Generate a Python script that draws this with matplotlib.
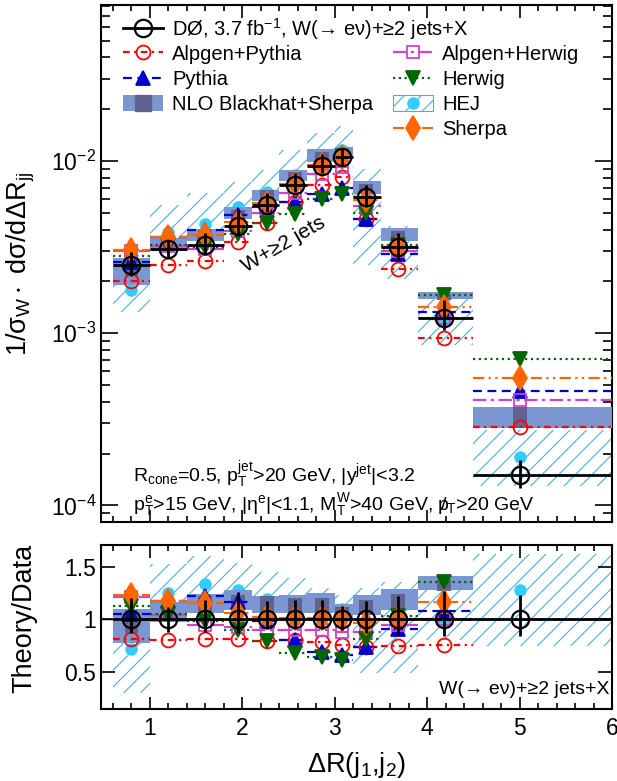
import numpy as np
import matplotlib.pyplot as plt
from matplotlib.lines import Line2D
from matplotlib.patches import Patch
from matplotlib.ticker import MultipleLocator, FixedLocator, NullFormatter

plt.rcParams['font.family'] = ['Liberation Sans', 'DejaVu Sans']
plt.rcParams['mathtext.fontset'] = 'custom'
plt.rcParams['mathtext.rm'] = 'Liberation Sans'
plt.rcParams['mathtext.it'] = 'Liberation Sans'
plt.rcParams['mathtext.sf'] = 'Liberation Sans'
plt.rcParams['mathtext.default'] = 'regular'
plt.rcParams['hatch.linewidth'] = 0.8
plt.rcParams['axes.linewidth'] = 1.5

# --- binning of Delta R(j1,j2) ---
edges = [0.6, 1.0, 1.4, 1.8, 2.1, 2.4, 2.7, 3.0, 3.2, 3.5, 3.9, 4.5, 6.0]
xpos = [0.8, 1.2, 1.6, 1.95, 2.27, 2.57, 2.86, 3.08, 3.34, 3.68, 4.18, 5.0]

# --- D0 data, 1/sigma dsigma/dDeltaR, relative total uncertainty ---
data = [2.48e-3, 3.10e-3, 3.25e-3, 4.20e-3, 5.55e-3, 7.25e-3, 9.35e-3, 1.06e-2,
        6.20e-3, 3.15e-3, 1.23e-3, 1.50e-4]
data_up = [0.20, 0.12, 0.18, 0.26, 0.17, 0.18, 0.18, 0.13, 0.17, 0.22, 0.27, 0.23]
data_dn = [0.13, 0.12, 0.12, 0.13, 0.09, 0.09, 0.09, 0.10, 0.13, 0.15, 0.155, 0.16]

# --- theory / data ---
r_alpgen_pythia = [0.81, 0.80, 0.81, 0.81, 0.79, 0.80, 0.78, 0.76, 0.74, 0.75, 0.76, 1.89]
r_pythia = [1.05, 1.17, 1.22, 1.16, 0.98, 0.80, 0.69, 0.66, 0.74, 0.91, 1.08, 3.07]
r_alpgen_herwig = [1.21, 1.04, 0.95, 0.93, 0.90, 0.90, 0.90, 0.875, 0.88, 0.95, 1.00, 2.73]
r_herwig = [1.13, 1.05, 0.98, 0.90, 0.79, 0.68, 0.645, 0.61, 0.81, 1.03, 1.35, 4.73]
r_hej = [0.72, 1.25, 1.33, 1.28, 1.19, 1.15, 1.14, 1.10, 1.13, 1.15, 0.98, 1.28]
r_sherpa = [1.23, 1.17, 1.15, 1.06, 1.025, 1.015, 1.015, 1.00, 0.96, 1.00, 1.16, 3.67]
r_nlo_lo = [0.77, 0.97, 1.06, 1.09, 1.06, 1.06, 1.06, 0.98, 1.04, 1.09, 1.28, 1.87]
r_nlo_hi = [1.10, 1.16, 1.24, 1.28, 1.22, 1.23, 1.25, 1.14, 1.23, 1.29, 1.41, 2.47]
r_nlo2_lo = [0.87, 0.99, 1.06, 1.09, 1.07, 1.06, 1.06, 0.98, 1.04, 1.09, 1.27, 1.87]
r_nlo2_hi = [1.09, 1.15, 1.22, 1.23, 1.22, 1.20, 1.20, 1.12, 1.18, 1.24, 1.37, 2.47]

# HEJ uncertainty band as drawn in the two panels
hej_band_lo = [1.33e-3, 3.0e-3, 3.45e-3, 4.6e-3, 5.9e-3, 7.7e-3, 9.9e-3, 1.04e-2,
               2.5e-3, 2.07e-3, 8.5e-4, 1.30e-4]
hej_band_hi = [2.7e-3, 5.55e-3, 6.5e-3, 7.6e-3, 8.9e-3, 1.16e-2, 1.45e-2, 1.6e-2,
               9.0e-3, 4.2e-3, 1.7e-3, 2.75e-4]
hej_r_lo = [0.30, 0.97, 1.06, 1.09, 1.06, 1.06, 1.06, 0.98, 0.49, 0.49, 0.80, 0.75]
hej_r_hi = [1.09, 1.52, 1.60, 1.53, 1.45, 1.39, 1.30, 1.23, 1.30, 1.35, 1.30, 1.62]

edges = np.array(edges)
xpos = np.array(xpos)
data = np.array(data)
left, right = edges[:-1], edges[1:]
widths = right - left

c_nlo = '#7b96d0'
c_nlo2 = '#626290'
c_hatch = '#4aaee8'
c_hej = '#33ccff'

models = [
    ('Alpgen+Pythia', r_alpgen_pythia, '#ff0000', (0, (3, 2, 1, 2)), 'o', 10, 'none'),
    ('Pythia', r_pythia, '#0000cc', (0, (4, 2.5)), '^', 10, None),
    ('Alpgen+Herwig', r_alpgen_herwig, '#cc44cc', (0, (6, 2, 1.5, 2)), 's', 9, 'none'),
    ('Herwig', r_herwig, '#006600', (0, (1, 1.6)), 'v', 10, None),
    ('Sherpa', r_sherpa, '#ff6600', (0, (5, 2, 1, 2, 1, 2)), 'd', 12, None),
]

fig = plt.figure(figsize=(6.17, 7.81), dpi=100)
ax = fig.add_axes([0.1637, 0.3316, 0.8282, 0.662])
axr = fig.add_axes([0.1637, 0.0922, 0.8282, 0.210])


def draw_panel(a, scale, hej_lo, hej_hi):
    # scale = data for the cross-section panel, ones for the ratio panel
    a.bar(left, np.array(hej_hi) - np.array(hej_lo), bottom=hej_lo, width=widths,
          align='edge', facecolor='none', edgecolor=c_hatch, hatch='//',
          linewidth=0, zorder=1)
    a.plot(xpos, np.array(r_hej) * scale, ls='none', marker='o', ms=8,
           color=c_hej, zorder=2)
    a.bar(left, (np.array(r_nlo_hi) - np.array(r_nlo_lo)) * scale,
          bottom=np.array(r_nlo_lo) * scale, width=widths, align='edge',
          color=c_nlo, linewidth=0, zorder=3)
    a.bar(xpos, (np.array(r_nlo2_hi) - np.array(r_nlo2_lo)) * scale,
          bottom=np.array(r_nlo2_lo) * scale, width=0.15, align='center',
          color=c_nlo2, linewidth=0, zorder=3.5)
    for name, r, col, ls, mk, ms, mfc in models:
        vals = np.array(r) * scale
        a.hlines(vals, left, right, colors=col, linestyles=[ls], lw=1.6, zorder=4)
        a.plot(xpos, vals, ls='none', marker=mk, ms=ms, color=col,
               mfc=mfc if mfc else col, mec=col, mew=1.3, zorder=5)
    a.errorbar(xpos, scale,
               yerr=[np.array(data_dn) * scale, np.array(data_up) * scale],
               xerr=[xpos - left, right - xpos], fmt='none', ecolor='k',
               elinewidth=2, capsize=0, zorder=6)
    a.plot(xpos, scale, ls='none', marker='o', ms=12.5, mfc='none',
           mec='k', mew=1.6, zorder=7)


draw_panel(ax, data, hej_band_lo, hej_band_hi)
ax.set_yscale('log')
ax.set_ylim(8e-5, 0.0807)
ax.set_xlim(0.47, 6.0)

draw_panel(axr, np.ones_like(data), hej_r_lo, hej_r_hi)
axr.axhline(1.0, color='k', lw=1, zorder=6)
axr.set_ylim(0.148, 1.705)
axr.set_xlim(0.47, 6.0)

for a in (ax, axr):
    a.xaxis.set_major_locator(MultipleLocator(1))
    a.xaxis.set_minor_locator(MultipleLocator(0.2))
    a.tick_params(which='both', direction='in', top=True, right=True, width=1.2,
                  labelsize=16.5)
    a.tick_params(axis='x', which='major', length=9)
    a.tick_params(axis='x', which='minor', length=4.5)
ax.tick_params(axis='y', which='major', length=12)
ax.tick_params(axis='y', which='minor', length=6.5)
ax.tick_params(axis='x', labelbottom=False)
ax.yaxis.set_minor_formatter(NullFormatter())
axr.yaxis.set_major_locator(FixedLocator([0.5, 1.0, 1.5]))
axr.yaxis.set_major_formatter(plt.FuncFormatter(lambda v, p: f'{v:g}'))
axr.tick_params(axis='y', which='major', length=10)
axr.tick_params(axis='y', which='minor', length=0)
axr.tick_params(axis='x', pad=6)

ax.set_ylabel(r'1/σ$_{W}\cdot$ dσ/dΔR$_{jj}$', fontsize=19.5)
ax.yaxis.set_label_coords(-0.125, 0.50)
axr.set_ylabel('Theory/Data', fontsize=19.5)
axr.yaxis.set_label_coords(-0.125, 0.55)
axr.set_xlabel(r'ΔR(j$_{1}$,j$_{2}$)', fontsize=19.5)
axr.xaxis.set_label_coords(0.5, -0.25)

ax.text(0.0626, 0.091, r'R$_{cone}$=0.5, p$_{T}^{jet}$>20 GeV, |y$^{jet}$|<3.2',
        transform=ax.transAxes, fontsize=14, va='center')
ax.text(0.0626, 0.033,
        r'p$_{T}^{e}$>15 GeV, |η$^{e}$|<1.1, M$_{T}^{W}$>40 GeV, $p\!\!\!/_{T}$>20 GeV',
        transform=ax.transAxes, fontsize=14, va='center')
ax.text(0.358, 0.537, 'W+≥2 jets', transform=ax.transAxes, fontsize=15,
        rotation=30, ha='center', va='center')
axr.text(0.996, 0.116, 'W(→ eν)+≥2 jets+X', transform=axr.transAxes, fontsize=14,
         ha='right', va='center')

# legend
h_data = Line2D([], [], color='k', lw=2, marker='o', ms=12.5, mfc='none', mec='k', mew=1.6)
hs = {}
for name, r, col, ls, mk, ms, mfc in models:
    hs[name] = Line2D([], [], color=col, ls=ls, lw=1.6, marker=mk, ms=ms,
                      mfc=mfc if mfc else col, mec=col, mew=1.3)
h_nlo = (Patch(facecolor=c_nlo, linewidth=0),
         Line2D([], [], ls='none', marker='s', ms=11, color=c_nlo2))
h_hej = (Patch(facecolor='none', edgecolor=c_hatch, hatch='//', linewidth=0.8),
         Line2D([], [], ls='none', marker='o', ms=8, color=c_hej))

kw = dict(frameon=False, fontsize=14.5, loc='upper left', borderpad=0,
          borderaxespad=0, handlelength=2.0, handletextpad=0.45,
          labelspacing=0.3, handleheight=0.8)
leg0 = ax.legend([h_data], ['DØ, 3.7 fb$^{-1}$, W(→ eν)+≥2 jets+X'],
                 bbox_to_anchor=(0.043, 0.979), **kw)
ax.add_artist(leg0)
leg1 = ax.legend([hs['Alpgen+Pythia'], hs['Pythia'], h_nlo],
                 ['Alpgen+Pythia', 'Pythia', 'NLO Blackhat+Sherpa'],
                 bbox_to_anchor=(0.043, 0.923), **kw)
ax.add_artist(leg1)
ax.legend([hs['Alpgen+Herwig'], hs['Herwig'], h_hej, hs['Sherpa']],
          ['Alpgen+Herwig', 'Herwig', 'HEJ', 'Sherpa'],
          bbox_to_anchor=(0.571, 0.923), **kw)

fig.savefig('out.png', dpi=100)
